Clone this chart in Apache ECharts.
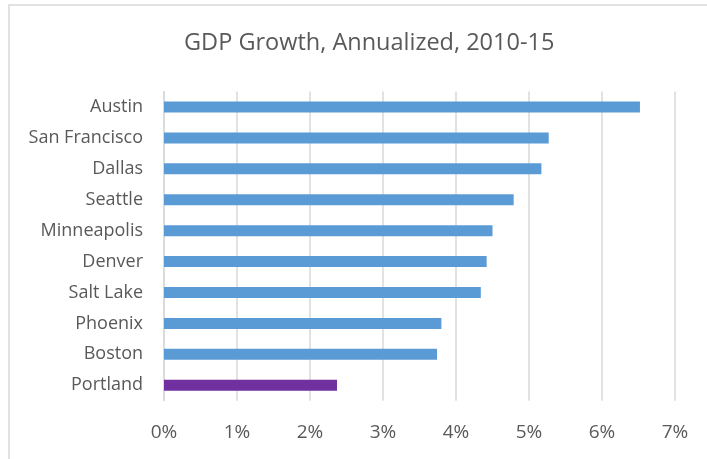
<!DOCTYPE html>
<html><head><meta charset="utf-8">
<script src="https://cdn.jsdelivr.net/npm/echarts@6/dist/echarts.min.js"></script>
<style>html,body{margin:0;padding:0;background:#fff}#c{width:707px;height:459px}</style>
</head><body><div id="c"></div>
<script>
const title = 'GDP Growth, Annualized, 2010-15';
const cities = ['Austin','San Francisco','Dallas','Seattle','Minneapolis','Denver','Salt Lake','Phoenix','Boston','Portland'];
const growth = [6.52, 5.27, 5.17, 4.79, 4.50, 4.42, 4.34, 3.80, 3.74, 2.37];
const highlight = 'Portland';
const xMin = 0, xMax = 7, xStep = 1;

const chart = echarts.init(document.getElementById('c'), null, {renderer:'canvas'});
const font = '"Open Sans", "Liberation Sans", sans-serif';
chart.setOption({
  animation:false,
  backgroundColor:'#fff',
  graphic:[{type:'rect', shape:{x:9,y:5,width:720,height:470}, style:{fill:'none', stroke:'#d9d9d9', lineWidth:1.5}, silent:true}],
  title:{text:title, left:179, top:26, textStyle:{fontFamily:font, fontSize:23.5, fontWeight:'normal', color:'#595959'}},
  grid:{left:164, right:32, top:91.5, bottom:58.3, containLabel:false},
  xAxis:{type:'value', min:xMin, max:xMax, interval:xStep,
    axisLabel:{formatter:v=>v+'%', fontFamily:font, fontSize:19, color:'#595959', margin:22},
    axisLine:{show:false}, axisTick:{show:false},
    splitLine:{show:true, lineStyle:{color:'#d9d9d9', width:1.5}}},
  yAxis:{type:'category', data:cities, inverse:true,
    axisLabel:{fontFamily:font, fontSize:18, color:'#595959', margin:21},
    axisLine:{show:true, lineStyle:{color:'#d9d9d9', width:1.5}}, axisTick:{show:false}},
  series:[{type:'bar', data:growth, barWidth:11,
    itemStyle:{color:p=>cities[p.dataIndex]===highlight?'#7030a0':'#5b9bd5'}}]
});
</script></body></html>
